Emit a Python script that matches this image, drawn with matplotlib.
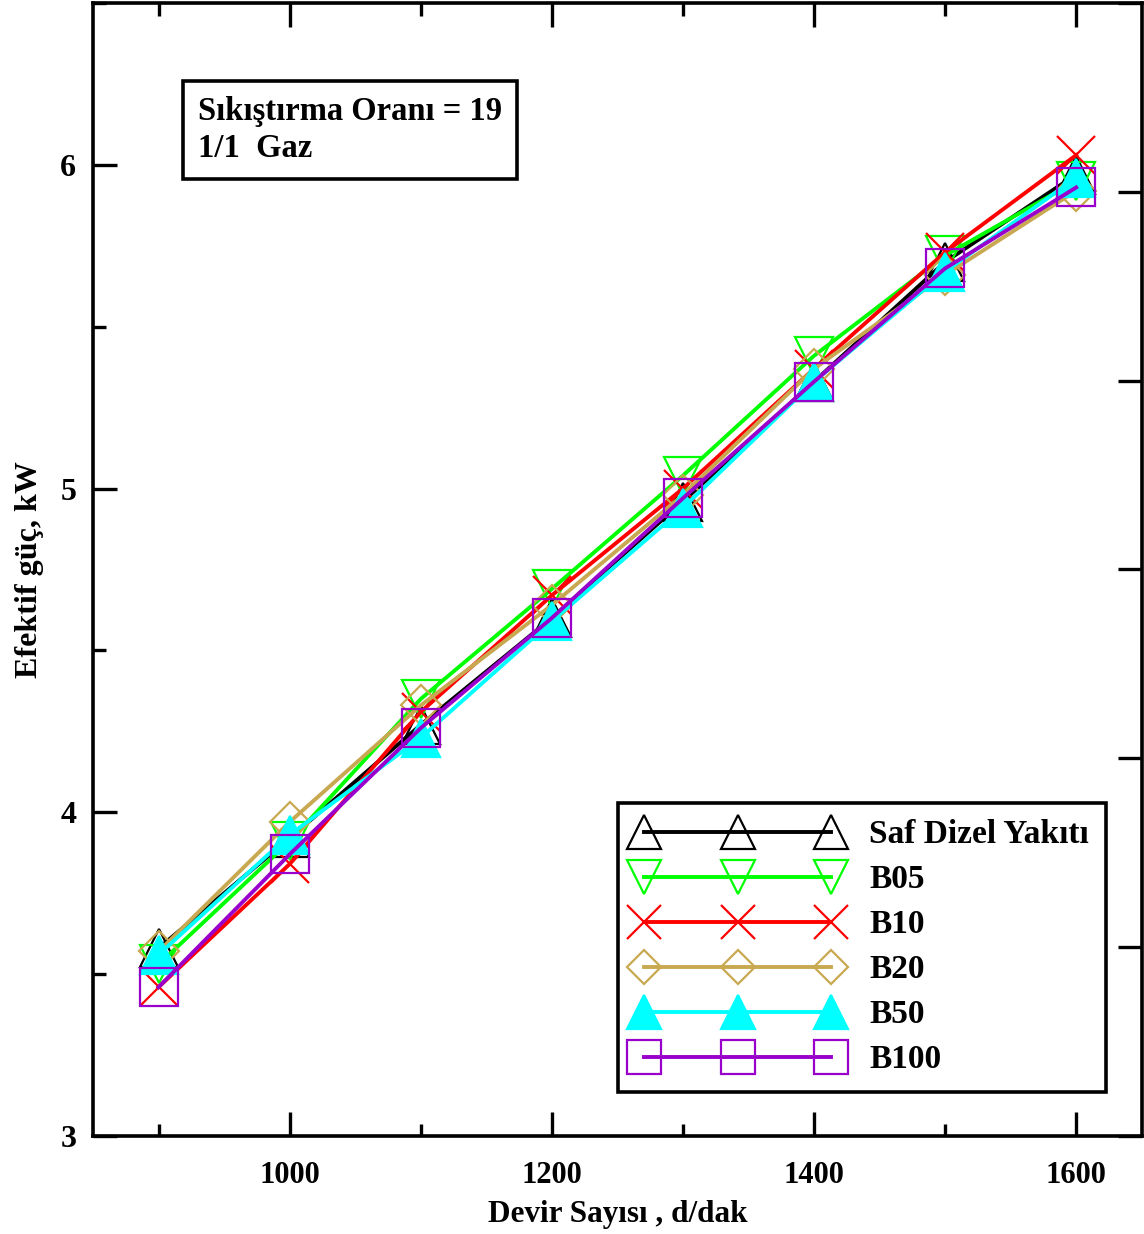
import numpy as np
import matplotlib
matplotlib.use("Agg")
import matplotlib.pyplot as plt
from matplotlib.ticker import MultipleLocator

plt.rcParams['font.family'] = ['Liberation Serif', 'DejaVu Serif']
plt.rcParams['font.weight'] = 'bold'

# devir sayisi (d/dak)
rpm = [900, 1000, 1100, 1200, 1300, 1400, 1500, 1600]

# efektif guc (kW), okunan degerler
saf_dizel = [3.58, 3.92, 4.27, 4.60, 4.96, 5.33, 5.70, 5.97]
b05 = [3.53, 3.91, 4.35, 4.69, 5.04, 5.41, 5.72, 5.95]
b10 = [3.46, 3.84, 4.31, 4.67, 5.00, 5.37, 5.73, 6.03]
b20 = [3.57, 3.97, 4.33, 4.64, 4.98, 5.37, 5.66, 5.92]
b50 = [3.56, 3.93, 4.23, 4.59, 4.94, 5.33, 5.67, 5.96]
b100 = [3.46, 3.87, 4.26, 4.60, 4.97, 5.33, 5.68, 5.93]

labels = ['Saf Dizel Yakıtı', 'B05', 'B10', 'B20', 'B50', 'B100']
series = [saf_dizel, b05, b10, b20, b50, b100]
colors = ['#000000', '#00ff00', '#ff0000', '#c8a850', '#00ffff', '#9900cc']
markers = ['^', 'v', 'x', 'D', '^', 's']
msizes = [28, 28, 28, 20, 28, 28]
filled = [False, False, False, False, True, False]

fig = plt.figure(figsize=(11.44, 12.34), dpi=100)
ax = fig.add_axes([0.0813, 0.0794, 0.9167, 0.9182])

for y, lab, c, m, ms, f in zip(series, labels, colors, markers, msizes, filled):
    ax.plot(rpm, y, color=c, lw=2.8, marker=m, ms=ms,
            mfc=c if f else 'none', mec=c, mew=1.6, label=lab)

ax.set_xlim(850, 1650)
ax.set_ylim(3, 6.5)
ax.xaxis.set_major_locator(MultipleLocator(200))
ax.xaxis.set_minor_locator(MultipleLocator(100))
ax.yaxis.set_major_locator(MultipleLocator(1))
ax.yaxis.set_minor_locator(MultipleLocator(0.5))
ax.set_xticks([1000, 1200, 1400, 1600])
ax.set_xticklabels(['1000', '1200', '1400', '1600'])
ax.set_yticks([3, 4, 5, 6])

ax.tick_params(which='both', direction='in', top=True, right=False, width=2.4)
ax.tick_params(which='major', length=17)
ax.tick_params(which='minor', length=9)
ax.tick_params(axis='x', labelsize=22, pad=18)
ax.tick_params(axis='y', labelsize=23, pad=12)
for s in ax.spines.values():
    s.set_linewidth(2.6)

# sag eksen: etiketsiz ikinci olcek
ax2 = ax.twinx()
ax2.set_ylim(0, 6)
ax2.yaxis.set_major_locator(MultipleLocator(1))
ax2.tick_params(direction='in', length=17, width=2.4, labelright=False)

ax.set_xlabel('Devir Sayısı , d/dak', fontsize=22.5, fontweight='bold', labelpad=7)
ax.set_ylabel('Efektif güç, kW', fontsize=23, fontweight='bold', labelpad=12)

ax.text(0.1, 0.888, 'Sıkıştırma Oranı = 19\n1/1  Gaz', transform=ax.transAxes,
        fontsize=23.5, fontweight='bold', ha='left', va='center', linespacing=1.28,
        bbox=dict(boxstyle='square,pad=0.45', fc='white', ec='black', lw=2.6))

leg = ax.legend(loc='lower right', bbox_to_anchor=(0.9657, 0.0388), numpoints=3,
                handlelength=6.2, handletextpad=0.85, labelspacing=0.42,
                borderpad=0.5, borderaxespad=0, fontsize=24, markerscale=0.85,
                fancybox=False, framealpha=1, edgecolor='black')
leg.get_frame().set_linewidth(2.6)
for t in leg.get_texts():
    t.set_fontweight('bold')

fig.savefig('out.png', dpi=100)
